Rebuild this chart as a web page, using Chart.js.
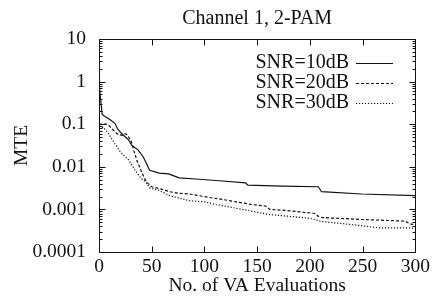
<!DOCTYPE html>
<html>
<head>
<meta charset="utf-8">
<script src="https://cdn.jsdelivr.net/npm/chart.js@4.4.1/dist/chart.umd.min.js"></script>
<style>
  html, body { margin: 0; padding: 0; background: #fff; }
  #wrap { width: 433px; height: 301px; }
</style>
</head>
<body>
<div id="wrap"><canvas id="mte"></canvas></div>
<script>
const seriesNames = ['SNR=10dB', 'SNR=20dB', 'SNR=30dB'];

const evals10 = [0, 1, 3, 6, 10, 15, 18, 21, 25, 28, 31, 37, 42, 45, 48, 57, 66, 76, 95, 114, 139, 141, 174, 208, 211, 249, 300];
const mte10 = [1.1, 0.5, 0.17, 0.15, 0.13, 0.105, 0.075, 0.062, 0.05, 0.043, 0.032, 0.025, 0.017, 0.012, 0.0083, 0.0071, 0.0068, 0.0055, 0.0051, 0.0047, 0.0042, 0.0037, 0.0035, 0.0034, 0.0026, 0.0023, 0.0021];

const evals20 = [0, 7, 9, 13, 17, 20, 22, 24, 26, 28, 30, 31, 33, 36, 40, 43, 46, 50, 57, 67, 75, 86, 95, 105, 118, 130, 145, 158, 162, 177, 205, 208, 212, 250, 290, 296, 300];
const mte20 = [0.1, 0.1, 0.095, 0.075, 0.06, 0.056, 0.055, 0.06, 0.058, 0.05, 0.042, 0.036, 0.024, 0.014, 0.008, 0.0054, 0.0042, 0.0034, 0.0031, 0.0026, 0.0024, 0.0023, 0.0021, 0.0019, 0.0017, 0.0015, 0.0013, 0.0012, 0.001, 0.00095, 0.0008, 0.00068, 0.00064, 0.00058, 0.00053, 0.00045, 0.00044];

const evals30 = [0, 4, 9, 15, 21, 28, 34, 40, 44, 48, 57, 67, 86, 100, 111, 136, 161, 177, 200, 211, 240, 265, 290, 300];
const mte30 = [0.08, 0.085, 0.06, 0.035, 0.021, 0.0146, 0.0085, 0.0053, 0.0045, 0.0032, 0.0028, 0.0021, 0.0016, 0.0015, 0.0013, 0.001, 0.00076, 0.0007, 0.00062, 0.00052, 0.00044, 0.00037, 0.00037, 0.00036];

const xTicks = [0, 50, 100, 150, 200, 250, 300];
const yTicks = [10, 1, 0.1, 0.01, 0.001, 0.0001];
const yTickLabels = ['10', '1', '0.1', '0.01', '0.001', '0.0001'];

const ink = '#111';
const dashes = [[], [3, 2], [1.2, 1.8]];
const font = 'Liberation Serif';

const pairs = (xs, ys) => xs.map((x, i) => ({ x: x, y: ys[i] }));

// gnuplot style frame: box, inward ticks on all sides, legend inside top right
const frameTicks = {
    id: 'frameTicks',
    afterDatasetsDraw(chart) {
        const { ctx, chartArea: a, scales: { x, y } } = chart;
        const L = Math.round(a.left) + 0.5, R = Math.round(a.right) + 0.5;
        const T = Math.round(a.top) + 0.5, B = Math.round(a.bottom) + 0.5;
        ctx.save();
        ctx.strokeStyle = ink;
        ctx.lineWidth = 1;
        ctx.strokeRect(L, T, R - L, B - T);
        ctx.beginPath();
        xTicks.forEach(v => {
            const px = Math.round(x.getPixelForValue(v)) + 0.5;
            ctx.moveTo(px, B); ctx.lineTo(px, B - 6);
            ctx.moveTo(px, T); ctx.lineTo(px, T + 6);
        });
        for (let e = -4; e <= 0; e++) {
            for (let m = 1; m <= 9; m++) {
                const v = m * Math.pow(10, e);
                const py = Math.round(y.getPixelForValue(v)) + 0.5;
                const len = m === 1 ? 6 : 3;
                ctx.moveTo(L, py); ctx.lineTo(L + len, py);
                ctx.moveTo(R, py); ctx.lineTo(R - len, py);
            }
        }
        ctx.stroke();

        // legend
        ctx.font = '20px "' + font + '"';
        ctx.fillStyle = ink;
        ctx.textAlign = 'right';
        ctx.textBaseline = 'middle';
        seriesNames.forEach((name, i) => {
            const ly = 63 + i * 20;
            ctx.fillText(name, 349, ly);
            ctx.beginPath();
            ctx.setLineDash(dashes[i]);
            ctx.lineWidth = 1.2;
            ctx.moveTo(356, ly + 0.5);
            ctx.lineTo(393, ly + 0.5);
            ctx.stroke();
        });
        ctx.restore();
    }
};

const line = (i, data) => ({
    label: seriesNames[i],
    data: data,
    borderColor: ink,
    borderWidth: 1.2,
    borderDash: dashes[i],
    pointRadius: 0,
    tension: 0,
    fill: false
});

new Chart(document.getElementById('mte'), {
    type: 'line',
    data: {
        datasets: [
            line(0, pairs(evals10, mte10)),
            line(1, pairs(evals20, mte20)),
            line(2, pairs(evals30, mte30))
        ]
    },
    options: {
        responsive: true,
        maintainAspectRatio: false,
        animation: false,
        events: [],
        layout: { padding: { top: 0, right: 16, bottom: 0, left: 0 } },
        plugins: {
            legend: { display: false },
            tooltip: { enabled: false },
            title: {
                display: true,
                text: 'Channel 1, 2-PAM',
                fullSize: false,
                color: ink,
                font: { family: font, size: 20, weight: 'normal' },
                padding: { top: 7, bottom: 8 }
            }
        },
        scales: {
            x: {
                type: 'linear',
                min: 0,
                max: 300,
                afterFit: s => { s.height = 49; },
                grid: { display: false, drawTicks: false },
                border: { display: false },
                ticks: {
                    stepSize: 50,
                    padding: 3,
                    color: ink,
                    maxRotation: 0,
                    font: { family: font, size: 19.5 }
                },
                title: {
                    display: true,
                    text: 'No. of VA Evaluations',
                    color: ink,
                    font: { family: font, size: 19.5 },
                    padding: { top: 0, bottom: 3 }
                }
            },
            y: {
                type: 'logarithmic',
                min: 0.0001,
                max: 10,
                afterFit: s => { s.width = 99; },
                afterBuildTicks: s => { s.ticks = yTicks.map(v => ({ value: v })); },
                grid: { display: false, drawTicks: false },
                border: { display: false },
                ticks: {
                    padding: 13,
                    color: ink,
                    font: { family: font, size: 19.5 },
                    callback: (v, i) => yTickLabels[i]
                },
                title: {
                    display: true,
                    text: 'MTE',
                    color: ink,
                    font: { family: font, size: 19.5 },
                    padding: { top: 10, bottom: 0 }
                }
            }
        }
    },
    plugins: [frameTicks]
});
</script>
</body>
</html>
